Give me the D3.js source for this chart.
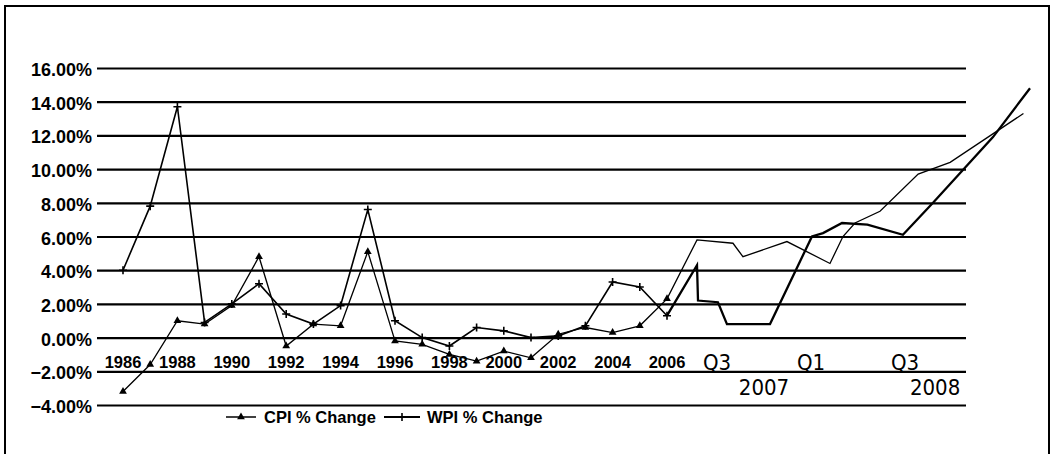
<!DOCTYPE html>
<html lang="en">
<head>
<meta charset="UTF-8">
<title>CPI % Change vs WPI % Change</title>
<style>
    body { margin: 0; background: #fff; overflow: hidden; }
    svg text { font-family: "Liberation Sans", Arial, sans-serif; fill: #000; }
</style>
</head>
<body>
<div id="container"></div>
<script src="https://cdn.jsdelivr.net/npm/d3@7/dist/d3.min.js"></script>
<script>
// annual readings, 1986 - 2006
var years = [1986, 1987, 1988, 1989, 1990, 1991, 1992, 1993, 1994, 1995, 1996,
             1997, 1998, 1999, 2000, 2001, 2002, 2003, 2004, 2005, 2006];
var cpiAnnual = [-3.2, -1.6, 1.0, 0.8, 1.9, 4.8, -0.5, 0.8, 0.7, 5.1, -0.2,
                 -0.4, -1.0, -1.4, -0.8, -1.2, 0.2, 0.6, 0.3, 0.7, 2.3];
var wpiAnnual = [4.0, 7.8, 13.7, 0.9, 2.0, 3.2, 1.4, 0.8, 1.9, 7.6, 1.0,
                 0.0, -0.5, 0.6, 0.4, 0.0, 0.1, 0.7, 3.3, 3.0, 1.3];

// later readings (time as decimal year)
var cpiRecentT = [2006.9, 2007.585, 2007.638, 2007.872, 2008.101, 2008.17, 2008.234,
                  2008.367, 2008.57, 2008.74, 2009.13];
var cpiRecent = [5.8, 5.6, 4.8, 5.7, 4.4, 6.0, 6.8, 7.5, 9.7, 10.4, 13.3];
var wpiRecentT = [2006.9, 2006.93, 2007.505, 2007.553, 2007.782, 2008.005, 2008.064,
                  2008.165, 2008.3, 2008.489, 2008.649, 2008.968, 2009.165];
var wpiRecent = [4.3, 2.2, 2.1, 0.8, 0.8, 6.0, 6.2, 6.8, 6.7, 6.1, 8.0, 11.9, 14.8];

// axis labels
var yTicks = [-4, -2, 0, 2, 4, 6, 8, 10, 12, 14, 16];
var yearTicks = [1986, 1988, 1990, 1992, 1994, 1996, 1998, 2000, 2002, 2004, 2006];
var quarterTicks = [2007.5, 2008.0, 2008.5];
var quarterLabels = ["Q3", "Q1", "Q3"];
var groupTicks = [2007.75, 2008.66];
var groupLabels = ["2007", "2008"];

var width = 1052, height = 454;
var plotLeft = 97, plotRight = 966;

var svg = d3.select("#container").append("svg")
    .attr("width", width)
    .attr("height", height);

// frame
svg.append("rect")
    .attr("x", 5).attr("y", 6)
    .attr("width", 1044).attr("height", 470)
    .attr("fill", "none")
    .attr("stroke", "#000")
    .attr("stroke-width", 2);

// annual section is wide, quarterly section after 2006 is stretched
var x = d3.scaleLinear()
    .domain([1986, 2006, 2007.5, 2009.5])
    .range([123, 667, 717, 1093]);

var y = d3.scaleLinear()
    .domain([-4, 16])
    .range([405, 68]);

// value axis + gridlines
var yAxis = svg.append("g")
    .attr("transform", "translate(" + plotLeft + ",0)")
    .call(d3.axisLeft(y)
        .tickValues(yTicks)
        .tickSizeInner(-(plotRight - plotLeft))
        .tickSizeOuter(0)
        .tickPadding(5)
        .tickFormat(function (d) { return d3.format(".2f")(d) + "%"; }));
yAxis.select(".domain").remove();
yAxis.selectAll(".tick line")
    .attr("stroke", "#000")
    .attr("stroke-width", 2.2);
yAxis.selectAll(".tick text")
    .attr("font-size", 18)
    .attr("font-weight", "bold")
    .attr("font-family", "'Liberation Sans', Arial, sans-serif")
    .attr("dy", "0.42em");

// category labels
svg.append("g").selectAll("text")
    .data(yearTicks)
    .enter().append("text")
    .attr("x", function (d) { return x(d); })
    .attr("y", 368)
    .attr("text-anchor", "middle")
    .attr("font-size", 16.5)
    .attr("font-weight", "bold")
    .text(function (d) { return d; });

svg.append("g").selectAll("text")
    .data(quarterTicks)
    .enter().append("text")
    .attr("x", function (d) { return x(d); })
    .attr("y", 370)
    .attr("text-anchor", "middle")
    .attr("font-size", 22)
    .style("font-family", "'Liberation Sans Narrow', 'DejaVu Sans Condensed', sans-serif")
    .text(function (d, i) { return quarterLabels[i]; });

svg.append("g").selectAll("text")
    .data(groupTicks)
    .enter().append("text")
    .attr("x", function (d) { return x(d); })
    .attr("y", 395)
    .attr("text-anchor", "middle")
    .attr("font-size", 22)
    .style("font-family", "'Liberation Sans Narrow', 'DejaVu Sans Condensed', sans-serif")
    .text(function (d, i) { return groupLabels[i]; });

// build series
var cpi = years.map(function (t, i) { return { t: t, v: cpiAnnual[i] }; })
    .concat(cpiRecentT.map(function (t, i) { return { t: t, v: cpiRecent[i] }; }));
var wpiEarly = years.map(function (t, i) { return { t: t, v: wpiAnnual[i] }; });
var wpiLate = [wpiEarly[wpiEarly.length - 1]]
    .concat(wpiRecentT.map(function (t, i) { return { t: t, v: wpiRecent[i] }; }));

var line = d3.line()
    .x(function (d) { return x(d.t); })
    .y(function (d) { return y(d.v); });

svg.append("path")
    .attr("d", line(cpi))
    .attr("fill", "none")
    .attr("stroke", "#000")
    .attr("stroke-width", 1.3);

svg.append("path")
    .attr("d", line(wpiEarly))
    .attr("fill", "none")
    .attr("stroke", "#000")
    .attr("stroke-width", 1.6);

svg.append("path")
    .attr("d", line(wpiLate))
    .attr("fill", "none")
    .attr("stroke", "#000")
    .attr("stroke-width", 2.3);

// markers
var tri = d3.symbol().type(d3.symbolTriangle).size(26);
svg.append("g").selectAll("path")
    .data(cpi.slice(0, years.length))
    .enter().append("path")
    .attr("d", tri)
    .attr("transform", function (d) { return "translate(" + x(d.t) + "," + y(d.v) + ")"; })
    .attr("fill", "#000");

function plus(g, cx, cy, r) {
    g.append("path")
        .attr("d", "M" + (cx - r) + "," + cy + "H" + (cx + r) + "M" + cx + "," + (cy - r) + "V" + (cy + r))
        .attr("stroke", "#000")
        .attr("stroke-width", 1.6);
}
var plusG = svg.append("g");
wpiEarly.forEach(function (d) { plus(plusG, x(d.t), y(d.v), 4); });

// legend
var legend = svg.append("g");
legend.append("line")
    .attr("x1", 226).attr("x2", 256).attr("y1", 417).attr("y2", 417)
    .attr("stroke", "#000").attr("stroke-width", 1.5);
legend.append("path")
    .attr("d", tri)
    .attr("transform", "translate(241,417)")
    .attr("fill", "#000");
legend.append("text")
    .attr("x", 264).attr("y", 423)
    .attr("font-size", 16.5)
    .attr("font-weight", "bold")
    .text("CPI % Change");

legend.append("line")
    .attr("x1", 384).attr("x2", 420).attr("y1", 417).attr("y2", 417)
    .attr("stroke", "#000").attr("stroke-width", 1.8);
plus(legend, 402, 417, 4);
legend.append("text")
    .attr("x", 427).attr("y", 423)
    .attr("font-size", 16.5)
    .attr("font-weight", "bold")
    .text("WPI % Change");
</script>
</body>
</html>
